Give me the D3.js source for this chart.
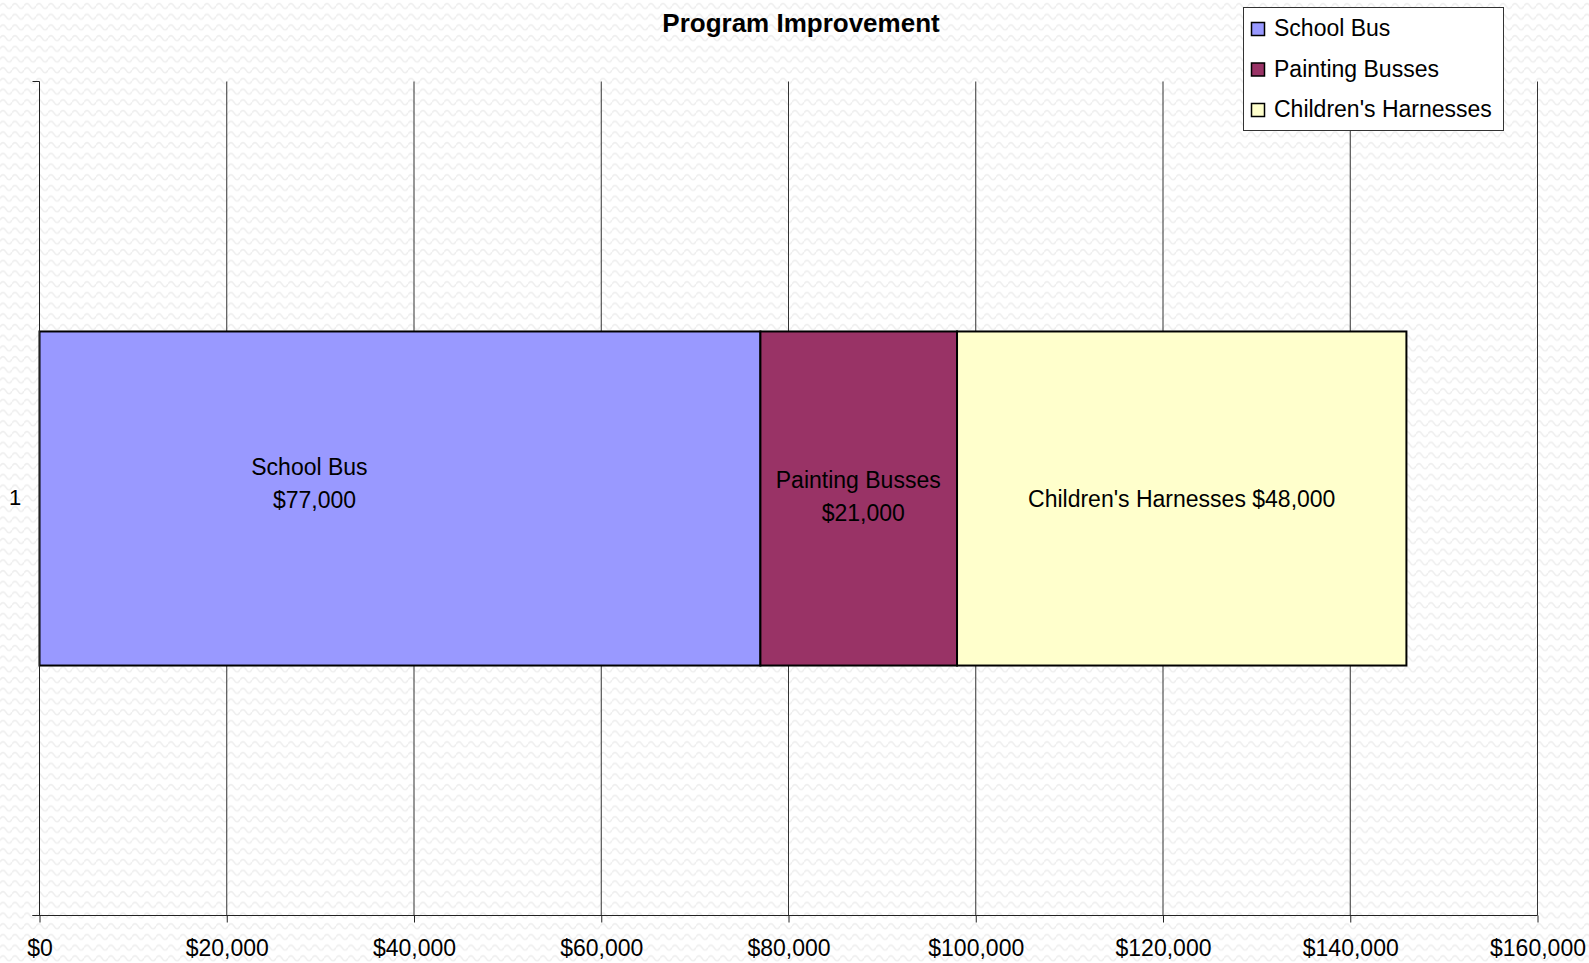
<!DOCTYPE html>
<html>
<head>
<meta charset="utf-8">
<script src="https://cdn.jsdelivr.net/npm/d3@7"></script>
<style>
  html, body { margin: 0; padding: 0; background: #ffffff; }
  svg { display: block; }
  text { font-family: "Liberation Sans", Arial, sans-serif; fill: #000; }
</style>
</head>
<body>
<svg id="chart" width="1589" height="963"></svg>
<script>
// ---------------- data ----------------
const title = "Program Improvement";
const categories = ["1"];
const seriesNames = ["School Bus", "Painting Busses", "Children's Harnesses"];
const seriesValues = [77000, 21000, 48000];
const seriesColors = ["#9999FF", "#993366", "#FFFFCC"];
const labelLines = [["School Bus", "$77,000"], ["Painting Busses", "$21,000"], ["Children's Harnesses $48,000"]];
const xTicks = [0, 20000, 40000, 60000, 80000, 100000, 120000, 140000, 160000];

// ---------------- layout ----------------
const W = 1589, H = 963;
const plot = { left: 39.5, right: 1537.5, top: 81.5, bottom: 915.5 };
// manual nudges of the data labels (as placed in the original chart)
const labelNudge = [{ dx: -88, dy: -15.5 }, { dx: 2, dy: -2 }, { dx: 0, dy: 0 }];
const lineNudge = [-2.5, 2.5];

const svg = d3.select("#chart");

// background wavy texture
const defs = svg.append("defs");
const pat = defs.append("pattern").attr("id", "waves").attr("patternUnits", "userSpaceOnUse")
  .attr("width", 12).attr("height", 10.7);
pat.append("rect").attr("width", 12).attr("height", 10.7).attr("fill", "#ffffff");
pat.append("path").attr("d", "M0 6 Q3 1 6 6 T12 6").attr("fill", "none")
  .attr("stroke", "#efefef").attr("stroke-width", 1.6);
svg.append("rect").attr("width", W).attr("height", H).attr("fill", "url(#waves)");

const x = d3.scaleLinear().domain([0, 160000]).range([plot.left, plot.right]);
const y = d3.scaleBand().domain(categories).range([plot.top, plot.bottom])
  .paddingInner(0.428).paddingOuter(0.428);

// gridlines
svg.append("g").selectAll("line").data(xTicks.filter(d => d > 0)).join("line")
  .attr("x1", d => x(d)).attr("x2", d => x(d))
  .attr("y1", plot.top).attr("y2", plot.bottom)
  .attr("stroke", "#333").attr("stroke-width", 1);

// stacked bars
const stackData = [Object.fromEntries(seriesNames.map((n, i) => [n, seriesValues[i]]))];
stackData[0].cat = categories[0];
const stacked = d3.stack().keys(seriesNames)(stackData);

const barG = svg.append("g");
stacked.forEach((s, i) => {
  barG.selectAll(null).data(s).join("rect")
    .attr("x", d => x(d[0]))
    .attr("y", d => y(d.data.cat))
    .attr("width", d => x(d[1]) - x(d[0]))
    .attr("height", y.bandwidth())
    .attr("fill", seriesColors[i])
    .attr("stroke", "#000").attr("stroke-width", 2);
});

// data labels
const lineH = 33;
stacked.forEach((s, i) => {
  const d = s[0];
  const cx = (x(d[0]) + x(d[1])) / 2 + labelNudge[i].dx;
  const cy = y(d.data.cat) + y.bandwidth() / 2 + labelNudge[i].dy;
  const lines = labelLines[i];
  const t = svg.append("text").attr("text-anchor", "middle").style("font-size", "23px");
  lines.forEach((ln, k) => {
    const off = (k - (lines.length - 1) / 2) * lineH;
    t.append("tspan").attr("x", cx + (lines.length > 1 ? lineNudge[k] : 0))
      .attr("y", cy + off + 8).text(ln);
  });
});

// x axis
const xAxis = d3.axisBottom(x).tickValues(xTicks).tickSize(7).tickPadding(17)
  .tickFormat(d3.format("$,"));
const gx = svg.append("g").attr("transform", `translate(0,${plot.bottom})`).call(xAxis);
gx.select(".domain").remove();
gx.selectAll(".tick line").attr("stroke", "#222");
gx.selectAll(".tick text").style("font-size", "23px").style("font-family", "Liberation Sans, Arial, sans-serif").attr("fill", "#000");
svg.append("line").attr("x1", plot.left - 7).attr("x2", plot.right)
  .attr("y1", plot.bottom).attr("y2", plot.bottom).attr("stroke", "#222");

// y axis (category)
svg.append("line").attr("x1", plot.left).attr("x2", plot.left)
  .attr("y1", plot.top).attr("y2", plot.bottom).attr("stroke", "#222");
svg.append("g").selectAll("line").data(y.range()).join("line")
  .attr("x1", plot.left - 7).attr("x2", plot.left)
  .attr("y1", d => d).attr("y2", d => d).attr("stroke", "#222");
svg.append("g").selectAll("text").data(categories).join("text")
  .attr("x", 15).attr("y", d => y(d) + y.bandwidth() / 2 + 6)
  .attr("text-anchor", "middle").style("font-size", "22px").text(d => d);

// title
svg.append("text").attr("x", 801).attr("y", 32).attr("text-anchor", "middle")
  .style("font-size", "26px").style("font-weight", "bold").text(title);

// legend
const lg = svg.append("g");
lg.append("rect").attr("x", 1243.5).attr("y", 7.5).attr("width", 260).attr("height", 123)
  .attr("fill", "#fff").attr("stroke", "#333").attr("stroke-width", 1);
const legendRow = d3.scalePoint().domain(seriesNames).range([36, 117]);
seriesNames.forEach((n, i) => {
  const by = legendRow(n);
  lg.append("rect").attr("x", 1251.5).attr("y", by - 13.5).attr("width", 13).attr("height", 13)
    .attr("fill", seriesColors[i]).attr("stroke", "#000").attr("stroke-width", 1.5);
  lg.append("text").attr("x", 1274).attr("y", by).style("font-size", "23px").text(n);
});
</script>
</body>
</html>
